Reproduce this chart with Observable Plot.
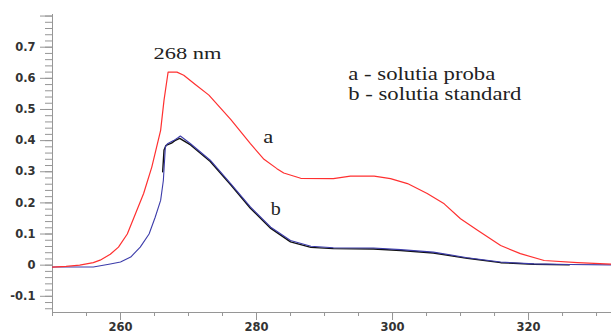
<!DOCTYPE html>
<html><head><meta charset="utf-8">
<script src="https://cdn.jsdelivr.net/npm/d3@7"></script>
<script src="https://cdn.jsdelivr.net/npm/@observablehq/plot@0.6"></script>
<style>body{margin:0;background:#fff} svg{display:block} svg text.serif-annot{font-family:"Liberation Serif","DejaVu Serif","Times New Roman",serif !important;font-weight:normal !important}</style>
</head><body><div id="chart"></div>
<script>
// Curve a - solutia proba (red)
const wavelengthA = [250,252,254,256,257,258.5,259.7,261,262.2,263.4,264.6,265.9,266.4,266.9,267.0,268.3,269.3,271,273,276.2,279.1,281.1,283,284,286.5,291.3,293.8,297.3,299.7,302.2,305.1,307.6,310,312.5,315.9,318.8,322.3,327.2,332.2];
const absorbanceA = [-0.006,-0.004,0.0,0.008,0.016,0.035,0.058,0.1,0.165,0.23,0.315,0.433,0.53,0.605,0.62,0.62,0.61,0.58,0.546,0.468,0.39,0.34,0.31,0.296,0.279,0.278,0.286,0.286,0.278,0.262,0.23,0.197,0.149,0.112,0.063,0.037,0.015,0.008,0.003];

// Curve b - solutia standard (blue)
const wavelengthB = [250,256,258.5,260,261.5,262.9,264.2,265.1,265.9,266.3,266.6,266.9,267.8,268.5,268.8,270.3,273.2,276.2,279.1,282.1,285,288,291.3,297.2,301.2,306,311,315.9,320.8,326,332.2];
const absorbanceB = [-0.006,-0.006,0.004,0.01,0.026,0.058,0.1,0.154,0.208,0.272,0.38,0.39,0.40,0.41,0.415,0.39,0.337,0.262,0.187,0.122,0.079,0.061,0.056,0.055,0.05,0.042,0.024,0.01,0.004,0.002,0.001];

// Overlapping replicate of b (black)
const wavelengthBk = [266.2,266.4,266.7,267.5,268,268.7,270.3,273.2,276.2,279.1,282.1,285,288,291.3,297.2,301.2,306,311,315.9,320.8,326];
const absorbanceBk = [0.3,0.37,0.385,0.392,0.40,0.407,0.386,0.333,0.258,0.183,0.118,0.075,0.057,0.053,0.052,0.047,0.039,0.022,0.008,0.003,0.001];

// Axis ticks
const yMajorTicks = [-0.1,0,0.1,0.2,0.3,0.4,0.5,0.6,0.7,0.8];
const yTickLabels = ["-0.1","0","0.1","0.2","0.3","0.4","0.5","0.6","0.7",""];
const xMajorTicks = [260,280,300,320];
const xTickLabels = ["260","280","300","320"];

// Annotations
const annotText = ["268 nm","a - solutia proba","b - solutia standard","a","b"];
const annotX = [264.85,293.5,293.5,281.0,282.1];
const annotY = [0.661,0.596,0.53,0.391,0.16];

const yMinorTicks = d3.range(-14, 81, 2).map(d => d / 100);
const xMinorTicks = d3.range(250, 335, 5);

const yLabelMap = new Map(yMajorTicks.map((d, i) => [d, yTickLabels[i]]));
const xLabelMap = new Map(xMajorTicks.map((d, i) => [d, xTickLabels[i]]));

const toRows = (xs, ys) => xs.map((x, i) => ({x, y: ys[i]}));
const rowsA = toRows(wavelengthA, absorbanceA);
const rowsB = toRows(wavelengthB, absorbanceB);
const rowsBk = toRows(wavelengthBk, absorbanceBk);
const annots = annotText.map((t, i) => ({t, x: annotX[i], y: annotY[i]}));

const xDomain = [250, 332.2];
const yDomain = [-0.152, 0.805];
const axisColor = "#969696";
const labelColor = "#333";

const svg = Plot.plot({
  width: 611, height: 334,
  marginLeft: 52, marginRight: 0, marginTop: 14, marginBottom: 22,
  x: {domain: xDomain},
  y: {domain: yDomain},
  style: {background: "#fff", overflow: "visible"},
  marks: [
    Plot.ruleX([xDomain[0]], {stroke: axisColor}),
    Plot.ruleY([yDomain[0]], {stroke: axisColor}),
    Plot.axisY(yMinorTicks, {tickSize: 7, tickFormat: () => "", stroke: axisColor, label: null}),
    Plot.axisY(yMajorTicks, {tickSize: 12, tickPadding: 5, tickFormat: d => yLabelMap.get(d), stroke: axisColor, fill: labelColor, fontFamily: "DejaVu Sans", fontWeight: "bold", fontSize: 11.5, label: null}),
    Plot.axisX(xMinorTicks, {tickSize: 4, tickFormat: () => "", stroke: axisColor, label: null}),
    Plot.axisX(xMajorTicks, {tickSize: 8, tickPadding: 2, tickFormat: d => xLabelMap.get(d), stroke: axisColor, fill: labelColor, fontFamily: "DejaVu Sans", fontWeight: "bold", fontSize: 11.5, label: null}),
    Plot.line(rowsBk, {x: "x", y: "y", stroke: "#111", strokeWidth: 1.4}),
    Plot.line(rowsB, {x: "x", y: "y", stroke: "#3c3caa", strokeWidth: 1.1}),
    Plot.line(rowsA, {x: "x", y: "y", stroke: "#ff3030", strokeWidth: 1.2}),
    Plot.text(annots, {x: "x", y: "y", text: "t", textAnchor: "start", lineAnchor: "bottom",
      fontFamily: "Liberation Serif", fontWeight: "normal",
      fontSize: d => d.t === "268 nm" ? 17 : (d.t.length > 1 ? 19 : 18), fill: "#222"})
  ]
});

// serif annotations, stretched horizontally to match the reference proportions
const widths = {"268 nm": 68, "a - solutia proba": 147, "b - solutia standard": 173, "a": 10, "b": 10};
d3.select(svg).selectAll("text").each(function() {
  const t = this.textContent;
  if (widths[t] !== undefined) {
    this.setAttribute("class", "serif-annot");
    this.setAttribute("font-family", "Liberation Serif, DejaVu Serif, serif");
    this.setAttribute("textLength", widths[t]);
    this.setAttribute("lengthAdjust", "spacingAndGlyphs");
  }
});
document.getElementById("chart").appendChild(svg);
</script>
</body></html>
